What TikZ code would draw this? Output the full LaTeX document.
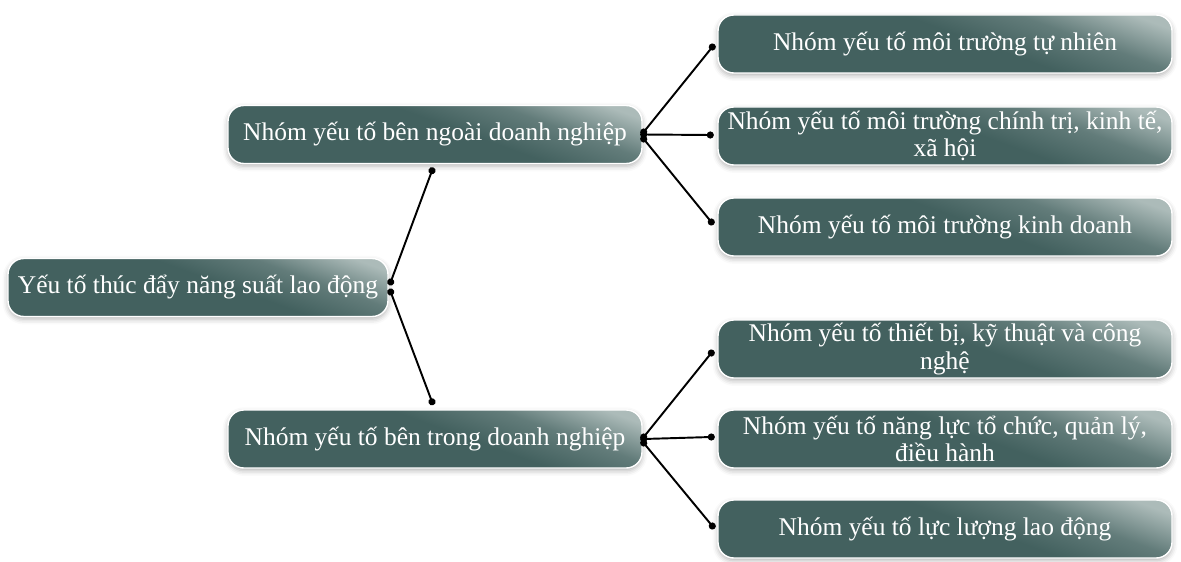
\documentclass[tikz,border=0pt]{standalone}
\usepackage{fontspec}
\setmainfont{Liberation Serif}
\usepackage{tikz}
\usetikzlibrary{arrows.meta}
\usetikzlibrary{shadows.blur}

\definecolor{boxdark}{RGB}{67,97,95}
\definecolor{boxlight}{RGB}{172,187,185}
\pgfdeclarehorizontalshading{boxshade}{100bp}{color(0bp)=(boxdark); color(54bp)=(boxdark); color(66bp)=(boxdark!70!boxlight); color(78bp)=(boxlight); color(100bp)=(boxlight)}

\begin{document}
\begin{tikzpicture}[
  box/.style={shade, shading=boxshade, shading angle=70, rounded corners=9pt, draw=white, line width=0.8pt,
    text=white, align=center, font=\fontsize{14.5}{15.6}\selectfont, minimum height=1.16cm, inner ysep=1pt,
    blur shadow={shadow xshift=0pt, shadow yshift=-1.5pt, shadow blur radius=3pt, shadow opacity=30}},
  leaf/.style={box, minimum width=9.08cm},
  link/.style={line width=1.1pt, shorten <=-2pt, shorten >=-2pt, {Circle[length=4pt]}-{Circle[length=4pt]}}]
\useasboundingbox (0,0) rectangle (23.62,11.22);

\node[box, minimum width=7.6cm] (root) at (3.96,5.47) {Yếu tố thúc đẩy năng suất lao động};
\node[box, minimum width=8.28cm] (outer) at (8.70,8.53) {Nhóm yếu tố bên ngoài doanh nghiệp};
\node[box, minimum width=8.28cm] (inner) at (8.70,2.44) {Nhóm yếu tố bên trong doanh nghiệp};

\node[leaf] (nature) at (18.90,10.34) {Nhóm yếu tố môi trường tự nhiên};
\node[leaf] (society) at (18.90,8.50) {Nhóm yếu tố môi trường chính trị, kinh tế,\\xã hội};
\node[leaf] (business) at (18.90,6.68) {Nhóm yếu tố môi trường kinh doanh};
\node[leaf] (tech) at (18.90,4.24) {Nhóm yếu tố thiết bị, kỹ thuật và công\\nghệ};
\node[leaf] (manage) at (18.90,2.44) {Nhóm yếu tố năng lực tổ chức, quản lý,\\điều hành};
\node[leaf] (labour) at (18.90,0.64) {Nhóm yếu tố lực lượng lao động};

\draw[link] ([shift={(0.04,0.11)}]root.east) -- ([shift={(-0.06,-0.13)}]outer.south);
\draw[link] ([shift={(0.04,-0.09)}]root.east) -- ([shift={(-0.06,0.15)}]inner.north);

\draw[link] ([shift={(0.02,0.05)}]outer.east) -- ([shift={(-0.10,-0.06)}]nature.west);
\draw[link] ([shift={(0.02,0)}]outer.east) -- ([shift={(-0.14,0.02)}]society.west);
\draw[link] ([shift={(0.02,-0.09)}]outer.east) -- ([shift={(-0.12,0.10)}]business.west);

\draw[link] ([shift={(0.02,0.04)}]inner.east) -- ([shift={(-0.12,-0.08)}]tech.west);
\draw[link] ([shift={(0.02,0)}]inner.east) -- ([shift={(-0.12,0.04)}]manage.west);
\draw[link] ([shift={(0.02,-0.08)}]inner.east) -- ([shift={(-0.10,0.06)}]labour.west);
\end{tikzpicture}
\end{document}
